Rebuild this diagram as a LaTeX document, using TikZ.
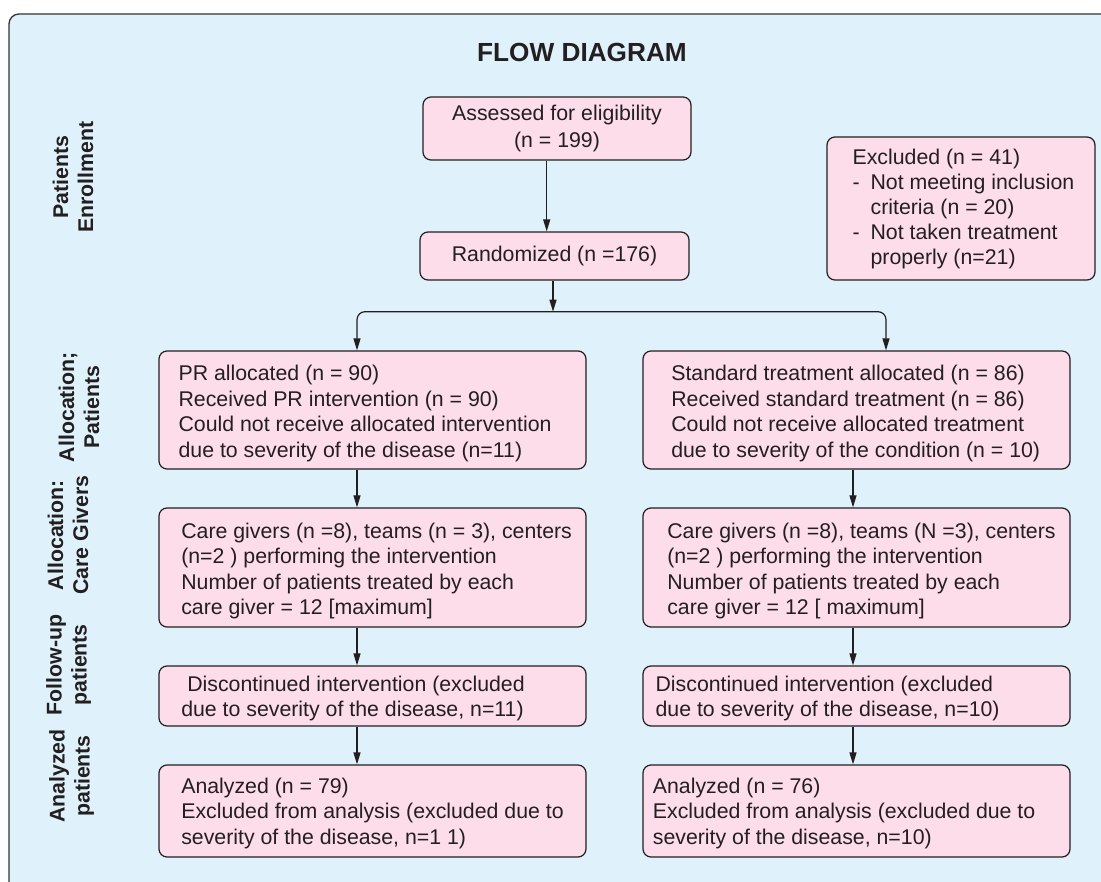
\documentclass[tikz,border=0pt]{standalone}
\usepackage{fontspec}
\setmainfont{Liberation Sans}
\usetikzlibrary{positioning,arrows.meta}
\definecolor{bgblue}{RGB}{223,242,251}
\definecolor{boxpink}{RGB}{252,221,233}
\definecolor{inkgray}{RGB}{35,31,32}
\newcommand{\boxfont}{\fontsize{21.3}{25.5}\selectfont}
\newcommand{\sidefont}{\fontsize{21.3}{25}\selectfont\bfseries}
\begin{document}
\begin{tikzpicture}[x=1pt,y=-1pt]
			\tikzstyle{box} = [draw=inkgray, fill=boxpink, line width=1.2pt, rounded corners=8pt, inner sep=0, minimum width=427pt]
			\tikzstyle{txt} = [inner sep=0, align=left, font=\boxfont, text=inkgray]
			\tikzstyle{side} = [inner sep=0, align=center, rotate=90, font=\sidefont, text=inkgray]
			\tikzstyle{arr} = [-{Triangle[length=12pt,width=7pt]}, line width=1.2pt, draw=inkgray]
			\useasboundingbox (0,0) rectangle (1101,882);
			% frame, cut off at the right and bottom
			\begin{scope}
				\clip (0,0) rectangle (1101,882);
				\draw[fill=bgblue, draw=black!80, line width=1.3pt, rounded corners=10pt] (9,14) rectangle (1140,920);
			\end{scope}
			\node [font=\fontsize{26.2}{30}\selectfont\bfseries, text=inkgray, inner sep=0] (title) at (582,52.5) {FLOW DIAGRAM};
			% side labels
			\node [side] (lab1) at (73,177) {Patients\\Enrollment};
			\node [side] (lab2) at (79,407) {Allocation;\\Patients};
			\node [side] (lab3) at (68,535) {Allocation:\\Care Givers};
			\node [side] (lab4) at (68.5,665) {Follow-up\\patients};
			\node [side] (lab5) at (71.5,776) {Analyzed\\patients};
			% boxes
			\node [box, minimum width=268pt, minimum height=63pt, align=center, font=\fontsize{21.3}{26.7}\selectfont, text=inkgray] (assess) at (557,128.5) {Assessed for eligibility\\(n = 199)};
			\node [box, minimum width=269pt, minimum height=48pt, font=\boxfont, text=inkgray] (rand) at (554.5,256) {Randomized (n =176)};
			\node [box, minimum width=268pt, minimum height=143pt] (excl) at (961,208.5) {};
			\node [box, minimum height=118pt] (pr) at (372.5,410) {};
			\node [box, minimum height=118pt] (std) at (856.5,410) {};
			\node [box, minimum height=119pt] (carel) at (372.5,567.5) {};
			\node [box, minimum height=119pt] (carer) at (856.5,567.5) {};
			\node [box, minimum height=60pt] (discl) at (372.5,696) {};
			\node [box, minimum height=60pt] (discr) at (856.5,696) {};
			\node [box, minimum height=92pt] (anal) at (372.5,811) {};
			\node [box, minimum height=92pt] (anar) at (856.5,811) {};
			% box texts
			\node [txt, right=26pt of excl.west, font=\fontsize{21.3}{25}\selectfont] (exclt) {Excluded (n = 41)\\\makebox[18pt][l]{-}Not meeting inclusion\\\hspace*{18pt}criteria (n = 20)\\\makebox[18pt][l]{-}Not taken treatment\\\hspace*{18pt}properly (n=21)};
			\node [txt, right=20pt of pr.west, yshift=-3.5pt] (prt) {PR allocated (n = 90)\\Received PR intervention (n = 90)\\Could not receive allocated intervention\\due to severity of the disease (n=11)};
			\node [txt, right=28.7pt of std.west, yshift=-3.5pt] (stdt) {Standard treatment allocated (n = 86)\\Received standard treatment (n = 86)\\Could not receive allocated treatment\\due to severity of the condition (n = 10)};
			\node [txt, right=22.7pt of carel.west, yshift=-3.5pt] (carelt) {Care givers (n =8), teams (n = 3), centers\\(n=2 ) performing the intervention\\Number of patients treated by each\\care giver = 12 [maximum]};
			\node [txt, right=24.7pt of carer.west, yshift=-3.5pt] (carert) {Care givers (n =8), teams (N =3), centers\\(n=2 ) performing the intervention\\Number of patients treated by each\\care giver = 12 [ maximum]};
			\node [txt, right=22.7pt of discl.west, yshift=-2.7pt] (disclt) {\hspace*{0.28em}Discontinued intervention (excluded\\due to severity of the disease, n=11)};
			\node [txt, right=13pt of discr.west, yshift=-2.7pt] (discrt) {Discontinued intervention (excluded\\due to severity of the disease, n=10)};
			\node [txt, right=22.7pt of anal.west, yshift=-2pt] (analt) {Analyzed (n = 79)\\Excluded from analysis (excluded due to\\severity of the disease, n=1 1)};
			\node [txt, right=10.3pt of anar.west, yshift=-2pt] (anart) {Analyzed (n = 76)\\Excluded from analysis (excluded due to\\severity of the disease, n=10)};
			% connectors
			\coordinate (c1) at (546.7,0);
			\coordinate (split) at (553,311.7);
			\coordinate (lx) at (357,0);
			\coordinate (rx) at (886,0);
			\coordinate (rcol) at (853,0);
			\draw [arr] (assess.south -| c1) -- (rand.north -| c1);
			\draw [arr] (rand.south -| split) -- (split);
			\draw [arr, rounded corners=8pt] (split) -| (pr.north -| lx);
			\draw [arr, rounded corners=8pt] (split) -| (std.north -| rx);
			\foreach \a/\b in {pr/carel, carel/discl, discl/anal}
			{
				\draw [arr] (\a.south -| lx) -- (\b.north -| lx);
			}
			\foreach \a/\b in {std/carer, carer/discr, discr/anar}
			{
				\draw [arr] (\a.south -| rcol) -- (\b.north -| rcol);
			}
\end{tikzpicture}
\end{document}
